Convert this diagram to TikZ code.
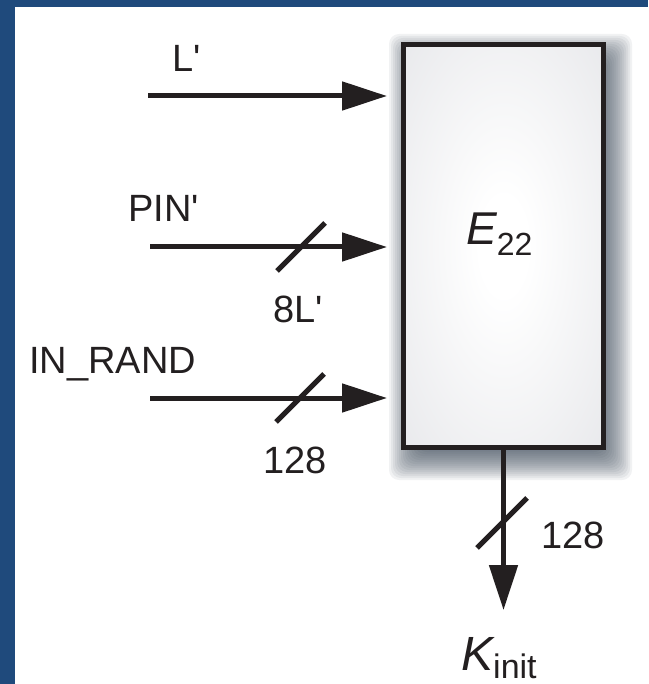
\documentclass[tikz,border=0pt]{standalone}
\usepackage{fontspec}
\setmainfont{Liberation Sans}
\usetikzlibrary{arrows.meta}
\definecolor{frameblue}{HTML}{1F4A7C}
\definecolor{ink}{HTML}{231F20}
\definecolor{boxgray}{HTML}{DEDFE3}
\definecolor{shadowc}{HTML}{3A4858}
\pgfdeclareradialshading{boxshade}{\pgfpoint{0bp}{0bp}}{color(0bp)=(white); color(6bp)=(white); color(50bp)=(boxgray)}
\begin{document}
\begin{tikzpicture}[x=1pt,y=-1pt,
  conn/.style={draw=ink,line width=5pt},
  arr/.style={conn,-{Triangle[length=45pt,width=28pt]}},
  slashmark/.style={draw=ink,line width=5pt},
  lbl/.style={font=\fontsize{38}{40}\selectfont, text=ink, inner sep=0pt, anchor=base west}]
\useasboundingbox (0,0) rectangle (648,684);
\fill[frameblue] (0,0) rectangle (648,684);
\fill[white] (15,7) rectangle (648,684);
% soft shadow
\foreach \i in {0,...,17}
  \fill[shadowc, opacity=0.07, rounded corners=10pt] ({423-2*\i},{68-2*\i}) rectangle ({598+2*\i},{446+2*\i});
% box
\node[draw=ink, line width=5pt, minimum width=200pt, minimum height=403pt, inner sep=0pt, shade, shading=boxshade] (E) at (503.5,246) {};
\node[lbl] (E22) at (466,245) {{\fontsize{46}{48}\selectfont\itshape E}\raisebox{-10pt}{\fontsize{32}{34}\selectfont 22}};
% inputs
\coordinate (sL) at (148,96);
\coordinate (sP) at (150,247);
\coordinate (sR) at (150,398);
\draw[arr, shorten >=14pt] (sL) -- (sL -| E.west);
\draw[arr, shorten >=14pt] (sP) -- (sP -| E.west);
\draw[arr, shorten >=14pt] (sR) -- (sR -| E.west);
\draw[slashmark] (277,271) -- (325,223);
\draw[slashmark] (276,422) -- (324,374);
\node[lbl] (lL) at (172,72) {L\textquotesingle};
\node[lbl] (lP) at (128,222) {PIN\textquotesingle};
\node[lbl] (l8) at (273,322) {8L\textquotesingle};
\node[lbl] (lR) at (29,373) {IN\_RAND};
\node[lbl] (l128a) at (263,473) {128};
% output
\coordinate (kout) at (503.5,610);
\draw[arr] (E.south) -- (kout);
\draw[slashmark] (477,548) -- (527,498);
\node[lbl] (l128b) at (541,548) {128};
\node[lbl] (K) at (461,670) {{\fontsize{48}{50}\selectfont\itshape K}\raisebox{-8pt}{\fontsize{34}{36}\selectfont init}};
\end{tikzpicture}
\end{document}
